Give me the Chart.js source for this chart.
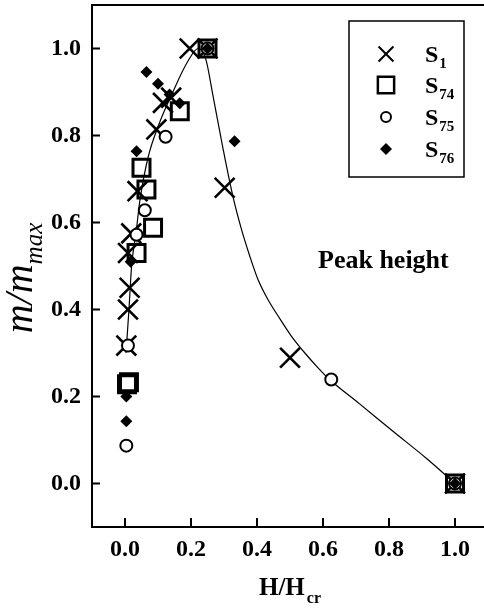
<!DOCTYPE html>
<html>
<head>
<meta charset="utf-8">
<script src="https://cdn.jsdelivr.net/npm/chart.js@4.4.1/dist/chart.umd.min.js"></script>
<style>
  html, body { margin: 0; padding: 0; overflow: hidden; background: #fff; }
  #wrap { width: 490px; height: 610px; }
</style>
</head>
<body>
<div id="wrap"><canvas id="c" width="490" height="610"></canvas></div>
<script>
// ---- data ----
const xTicks = [0.0, 0.2, 0.4, 0.6, 0.8, 1.0];
const yTicks = [0.0, 0.2, 0.4, 0.6, 0.8, 1.0];

const s1X = [0.004, 0.009, 0.014, 0.009, 0.019, 0.038, 0.095, 0.115, 0.14, 0.196, 0.25, 0.302, 0.5, 1.0];
const s1Y = [0.317, 0.40, 0.45, 0.53, 0.575, 0.672, 0.814, 0.875, 0.887, 1.0, 1.0, 0.68, 0.289, 0.0];

const s74X = [0.006, 0.012, 0.035, 0.085, 0.065, 0.05, 0.166, 0.25, 1.0];
const s74Y = [0.228, 0.233, 0.53, 0.588, 0.676, 0.726, 0.856, 1.0, 0.0];

const s75X = [0.004, 0.009, 0.035, 0.06, 0.123, 0.25, 0.625, 1.0];
const s75Y = [0.087, 0.317, 0.572, 0.628, 0.797, 1.0, 0.239, 0.0];

const s76X = [0.004, 0.004, 0.017, 0.035, 0.065, 0.1, 0.135, 0.166, 0.25, 0.332, 1.0];
const s76Y = [0.143, 0.2, 0.51, 0.764, 0.946, 0.919, 0.894, 0.874, 1.0, 0.787, 0.0];

const curveX = [0.003, 0.012, 0.02, 0.034, 0.045, 0.07, 0.1, 0.145, 0.19, 0.222, 0.245, 0.267, 0.297, 0.327, 0.353, 0.378, 0.403, 0.433, 0.464, 0.504, 0.545, 0.585, 0.62, 0.711, 0.812, 0.913, 1.0];
const curveY = [0.30, 0.40, 0.50, 0.58, 0.65, 0.75, 0.82, 0.90, 0.97, 1.0, 0.975, 0.89, 0.77, 0.66, 0.584, 0.523, 0.469, 0.423, 0.385, 0.339, 0.30, 0.266, 0.239, 0.183, 0.12, 0.058, 0.0];

const seriesNames = ['S', 'S', 'S', 'S'];
const seriesSubs = ['1', '74', '75', '76'];
const xTitleMain = 'H/H';
const xTitleSub = 'cr';
const yTitleMain = 'm/m';
const yTitleSub = 'max';
const annotation = 'Peak height';

const pts = (xs, ys) => xs.map((x, i) => ({ x: x, y: ys[i] }));

const SERIF = '"Liberation Serif", "Times New Roman", serif';

function drawMarker(ctx, style, x, y, r, lw) {
  ctx.save();
  ctx.strokeStyle = '#000';
  ctx.lineWidth = lw;
  ctx.beginPath();
  if (style === 'crossRot') {
    const o = Math.SQRT1_2 * r;
    ctx.moveTo(x - o, y - o); ctx.lineTo(x + o, y + o);
    ctx.moveTo(x - o, y + o); ctx.lineTo(x + o, y - o);
    ctx.stroke();
  } else if (style === 'rect') {
    const s = Math.SQRT1_2 * r;
    ctx.rect(x - s, y - s, 2 * s, 2 * s);
    ctx.stroke();
  } else if (style === 'circle') {
    ctx.arc(x, y, r, 0, Math.PI * 2);
    ctx.fillStyle = '#fff';
    ctx.fill();
    ctx.stroke();
  } else if (style === 'rectRot') {
    ctx.moveTo(x, y - r); ctx.lineTo(x + r, y); ctx.lineTo(x, y + r); ctx.lineTo(x - r, y); ctx.closePath();
    ctx.fillStyle = '#000';
    ctx.fill();
  }
  ctx.restore();
}

const decor = {
  id: 'decor',
  afterDraw(chart) {
    const ctx = chart.ctx;
    const a = chart.chartArea;
    const xs = chart.scales.x, ys = chart.scales.y;
    ctx.save();
    // frame
    ctx.strokeStyle = '#000';
    ctx.lineWidth = 2;
    ctx.strokeRect(a.left, a.top, a.right - a.left, a.bottom - a.top);
    // inward ticks
    ctx.beginPath();
    xTicks.forEach(v => {
      const px = xs.getPixelForValue(v);
      ctx.moveTo(px, a.bottom); ctx.lineTo(px, a.bottom - 9);
    });
    yTicks.forEach(v => {
      const py = ys.getPixelForValue(v);
      ctx.moveTo(a.left, py); ctx.lineTo(a.left + 8, py);
    });
    ctx.stroke();

    // x title
    ctx.fillStyle = '#000';
    ctx.textBaseline = 'alphabetic';
    ctx.textAlign = 'left';
    ctx.font = 'bold 25px ' + SERIF;
    const wMain = ctx.measureText(xTitleMain).width;
    ctx.font = 'bold 16px ' + SERIF;
    const wSub = ctx.measureText(xTitleSub).width;
    const cx = (a.left + a.right) / 2;
    const x0 = cx - (wMain + 2 + wSub) / 2;
    ctx.font = 'bold 25px ' + SERIF;
    ctx.fillText(xTitleMain, x0, 595);
    ctx.font = 'bold 16px ' + SERIF;
    ctx.fillText(xTitleSub, x0 + wMain + 2, 603);

    // y title (rotated)
    ctx.save();
    ctx.translate(22, 278);
    ctx.rotate(-Math.PI / 2);
    ctx.font = 'italic 40px ' + SERIF;
    const yw1 = ctx.measureText(yTitleMain).width;
    ctx.font = 'italic 25px ' + SERIF;
    const yw2 = ctx.measureText(yTitleSub).width;
    const ys0 = -(yw1 + yw2) / 2;
    ctx.font = 'italic 40px ' + SERIF;
    ctx.fillText(yTitleMain, ys0, 10);
    ctx.font = 'italic 25px ' + SERIF;
    ctx.fillText(yTitleSub, ys0 + yw1, 20);
    ctx.restore();

    // annotation
    ctx.font = 'bold 26px ' + SERIF;
    ctx.fillText(annotation, 318, 268);

    // legend box
    ctx.lineWidth = 1.5;
    ctx.strokeRect(349, 21, 115, 156);
    const rows = [54, 85, 117, 149];
    const styles = [['crossRot', 10.5, 2], ['rect', 11.5, 2.5], ['circle', 5, 2], ['rectRot', 6, 0]];
    rows.forEach((ry, i) => {
      drawMarker(ctx, styles[i][0], 386, ry, styles[i][1], styles[i][2]);
      ctx.fillStyle = '#000';
      ctx.font = 'bold 24px ' + SERIF;
      ctx.fillText(seriesNames[i], 425, ry + 8);
      const sw = ctx.measureText(seriesNames[i]).width;
      ctx.font = 'bold 15px ' + SERIF;
      ctx.fillText(seriesSubs[i], 425 + sw + 1, ry + 14);
    });
    ctx.restore();
  }
};

const tickFont = { family: SERIF, size: 24, weight: 'bold' };

new Chart(document.getElementById('c'), {
  type: 'scatter',
  data: {
    datasets: [
      {
        label: 'fit', type: 'line', data: pts(curveX, curveY),
        borderColor: '#000', borderWidth: 1.2, pointRadius: 0, fill: false,
        tension: 0.4, cubicInterpolationMode: 'monotone', order: 5
      },
      {
        label: 'S1', data: pts(s1X, s1Y), pointStyle: 'crossRot', pointRadius: 14,
        borderColor: '#000', borderWidth: 2.6, backgroundColor: 'rgba(0,0,0,0)', order: 4
      },
      {
        label: 'S74', data: pts(s74X, s74Y), pointStyle: 'rect', pointRadius: 12,
        borderColor: '#000', borderWidth: 3, backgroundColor: 'rgba(0,0,0,0)', order: 3
      },
      {
        label: 'S75', data: pts(s75X, s75Y), pointStyle: 'circle', pointRadius: 6,
        borderColor: '#000', borderWidth: 2, backgroundColor: '#fff', order: 2
      },
      {
        label: 'S76', data: pts(s76X, s76Y), pointStyle: 'rectRot', pointRadius: 6,
        borderColor: '#000', borderWidth: 0, backgroundColor: '#000', order: 1
      }
    ]
  },
  options: {
    responsive: false,
    animation: false,
    events: [],
    layout: { autoPadding: false, padding: { top: 5, right: 2, left: 0, bottom: 0 } },
    plugins: { legend: { display: false }, tooltip: { enabled: false } },
    scales: {
      x: {
        type: 'linear', min: -0.1, max: 1.1,
        afterBuildTicks: s => { s.ticks = xTicks.map(v => ({ value: v })); },
        afterFit: s => { s.height = 83; s.paddingLeft = 0; s.paddingRight = 0; },
        grid: { display: false, drawTicks: false },
        border: { display: false },
        ticks: { padding: 8, color: '#000', font: tickFont, maxRotation: 0, callback: v => Number(v).toFixed(1) }
      },
      y: {
        type: 'linear', min: -0.1, max: 1.1,
        afterBuildTicks: s => { s.ticks = yTicks.map(v => ({ value: v })); },
        afterFit: s => { s.width = 92; s.paddingTop = 0; s.paddingBottom = 0; },
        grid: { display: false, drawTicks: false },
        border: { display: false },
        ticks: { padding: 11, color: '#000', font: tickFont, callback: v => Number(v).toFixed(1) }
      }
    }
  },
  plugins: [decor]
});
</script>
</body>
</html>
